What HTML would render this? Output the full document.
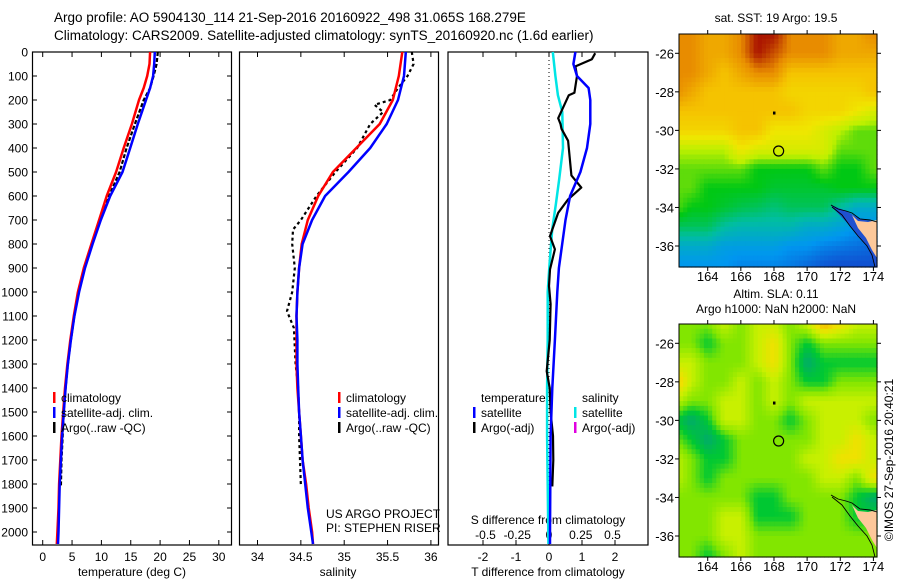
<!DOCTYPE html>
<html><head><meta charset="utf-8"><style>
html,body{margin:0;padding:0;background:#fff;width:900px;height:580px;overflow:hidden}
svg{display:block;font-family:"Liberation Sans",sans-serif}
text{font-size:12px;fill:#000}
</style></head><body>
<svg id="fig" width="900" height="580" viewBox="0 0 900 580">
<text x="54" y="22" style="font-size:13.5px">Argo profile: AO 5904130_114 21-Sep-2016 20160922_498 31.065S 168.279E</text>
<text x="54" y="40" style="font-size:13.5px">Climatology: CARS2009. Satellite-adjusted climatology: synTS_20160920.nc (1.6d earlier)</text>
<g id="p1"></g>
<g id="p2"></g>
<g id="p3"></g>
<g id="m1"></g>
<g id="m2"></g>
<text transform="translate(893,460) rotate(-90)" text-anchor="middle">©IMOS 27-Sep-2016 20:40:21</text>
</svg>
<script>
// ---- data ----
const tDepth=[0,50,100,150,200,300,400,500,600,700,800,900,1000,1100,1200,1300,1400,1500,1600,1700,1800,1900,2000,2050];
const tClim=[18.3,18.2,17.8,17.2,16.4,15.2,13.8,12.5,10.9,9.6,8.3,7.0,6.0,5.3,4.7,4.2,3.8,3.5,3.2,3.0,2.8,2.7,2.5,2.4];
const tSat=[19.1,19.0,18.8,18.3,17.6,16.2,14.9,13.6,11.5,9.9,8.5,7.2,6.2,5.4,4.8,4.3,3.9,3.6,3.3,3.1,2.9,2.8,2.7,2.6];
const argoDepth=[0,50,100,150,200,300,400,500,600,700,800,900,1000,1100,1200,1300,1400,1500,1600,1700,1810];
const tArgo=[19.6,19.4,18.9,18.3,17.2,15.7,14.3,13.1,11.3,9.7,8.4,7.1,6.1,5.4,4.8,4.3,3.9,3.6,3.4,3.2,3.1];
const sDepth=[0,100,200,300,400,500,600,700,800,900,1000,1100,1200,1300,1400,1500,1600,1700,1800,1900,2000,2050];
const sClim=[35.67,35.63,35.56,35.41,35.14,34.87,34.70,34.58,34.51,34.48,34.46,34.45,34.45,34.45,34.46,34.48,34.50,34.52,34.56,34.59,34.63,34.64];
const sSat=[35.71,35.69,35.62,35.49,35.30,35.05,34.78,34.63,34.52,34.48,34.46,34.45,34.46,34.46,34.47,34.48,34.50,34.52,34.55,34.58,34.62,34.64];
const sArgoDepth=[0,50,100,150,200,220,250,300,400,500,600,700,740,800,900,1000,1080,1150,1300,1400,1500,1600,1700,1810];
const sArgo=[35.78,35.80,35.73,35.62,35.53,35.35,35.45,35.30,35.15,34.90,34.68,34.50,34.41,34.40,34.43,34.40,34.34,34.42,34.44,34.47,34.48,34.48,34.49,34.50];
const dTSatDepth=[0,50,100,150,200,300,400,500,600,700,800,900,1000,1200,1400,1600,1800,2000,2050];
const dTSat=[0.8,0.74,0.85,1.2,1.25,1.25,1.15,0.95,0.64,0.5,0.4,0.3,0.25,0.18,0.1,0.05,0.04,0.03,0.03];
const dTArgoDepth=[5,30,60,100,170,180,276,300,320,370,514,565,614,670,767,822,906,975,1050,1200,1330,1400,1500,1600,1700,1810];
const dTArgo=[1.4,1.3,0.8,0.85,0.77,0.6,0.28,0.35,0.38,0.58,0.68,0.98,0.58,0.28,0.03,0.18,0.03,0,0.05,0.02,-0.07,0.02,0.05,0.12,0.13,0.1];
const dSSatDepth=[0,100,180,250,400,530,630,740,880,1000,1200,1400,1600,1800,2050];
const dSSat=[0.03,0.05,0.07,0.105,0.11,0.08,0.055,0.025,0.005,-0.01,-0.01,-0.015,-0.015,-0.01,-0.005];
const depthTicks=[0,100,200,300,400,500,600,700,800,900,1000,1100,1200,1300,1400,1500,1600,1700,1800,1900,2000];
const tTicks=[0,5,10,15,20,25,30];
const sTicks=[34,34.5,35,35.5,36];
const dTTicks=[-2,-1,0,1,2];
const dSTicks=[-0.5,-0.25,0,0.25,0.5];
const lonTicks=[164,166,168,170,172,174];
const latTicks=[-26,-28,-30,-32,-34,-36];
const sstGrid=[
[7,7,6.5,6.5,7,8,8,7,7,7,6.5,6.5,7],
[7,7,6.5,6.5,7,8,7.5,7,7,7,6.5,6.5,6.5],
[7,7,6.5,6,6.5,7,7,6,6,6,6,6,6],
[7,6.5,6,6,6,6,6,5.5,5.5,5.5,5.5,5.5,6],
[6,6,6,6,6,6,6,6,5.5,5.5,5.5,5,4.5],
[5.5,5.5,5.5,5.5,6,6,5,5,5,4.5,4,3.5,3.5],
[4,4,4,4,5,4.5,4.5,4.5,4.5,4.5,3.5,3.5,3.5],
[3.5,3.5,3.5,3.5,3.5,3,3,3,3,3.5,3,3,3.5],
[3.5,3.5,3,3,3,3,2.8,2.8,2.8,2.8,3,3,3],
[3.5,3,3,2.8,2.6,2.5,2.3,2.5,2.5,2.5,2,1.5,1.5],
[2.5,2.5,2.5,2,1.8,1.8,1.8,1.8,1.5,1.5,1.3,1,1],
[1.5,1.5,1.5,1.2,1.2,1.2,1.2,1,1,0.8,0.7,0.6,0.5],
[1,1,1,1,0.8,0.8,0.8,0.7,0.5,0.3,0.2,0.2,0.2]];
const slaGrid=[
[2,2,2,3,2,3,3,2,3,5,4,3,3],
[2,2,1,2,2,3,4,2,1,2,2,2,2],
[3,3,2,2,2,3,4,2,0,1,1,1,1],
[5,3,2,2,3,2,3,2,1,1,2,2,2],
[3,2,2,3,3,2,3,2,3,3,3,3,3],
[1,0,1,3,3,2,2,1,2,3,3,3,2],
[2,1,0,1,2,2,2,2,2,3,3,4,3],
[3,2,1,1,2,2,2,2,3,3,4,4,3],
[3,2,1,2,2,2,2,2,2,3,3,2,4],
[2,2,2,2,2,1,1,2,2,2,2,1,0],
[2,2,2,3,3,1,1,1,2,2,2,1,1],
[2,2,2,3,3,2,2,2,2,2,2,2,2],
[2,2,1,2,3,2,2,2,2,2,2,2,2]];
const sstCmap=[[20,60,200],[0,150,240],[0,190,160],[0,200,20],[190,240,0],[240,230,0],[245,195,0],[232,140,0],[170,20,0]];
const slaCmap=[[0,170,110],[0,200,50],[130,230,0],[200,240,0],[240,225,0],[245,175,0]];

// ---- helpers ----
const NS='http://www.w3.org/2000/svg';
function el(parent,tag,attrs){const e=document.createElementNS(NS,tag);for(const k in attrs)e.setAttribute(k,attrs[k]);parent.appendChild(e);return e;}
const yTop=52,yPx=0.24,yBot=545;
const yD=d=>yTop+d*yPx;
function line(g,xs,ds,fx,col,w,name,dash){
  const pts=xs.map((v,i)=>fx(v).toFixed(1)+','+yD(ds[i]).toFixed(1)).join(' ');
  const p=el(g,'polyline',{points:pts,fill:'none',stroke:col,'stroke-width':w,'stroke-linejoin':'round'});
  if(dash)p.setAttribute('stroke-dasharray',dash);
  
  
}
function frame(g,x0,x1,name){
  const r=el(g,'rect',{x:x0,y:yTop,width:x1-x0,height:yBot-yTop,fill:'none',stroke:'#000','stroke-width':1.2});
  
  
}
function txt(g,x,y,s,anchor,name){const t=el(g,'text',{x:x,y:y,'text-anchor':anchor||'start'});t.textContent=s;
  
  
  return t;}
function legendBar(g,x,y,col,name){const r=el(g,'rect',{x:x,y:y-10,width:2.5,height:11,fill:col});
  
  }

// ---- panel 1 ----
const p1=document.getElementById('p1');
const xT=t=>42.7+t*5.87;
frame(p1,32.5,231.5,'temperature-axes-frame');
depthTicks.forEach(d=>{el(p1,'line',{x1:32.5,x2:37,y1:yD(d),y2:yD(d),stroke:'#000'});el(p1,'line',{x1:227,x2:231.5,y1:yD(d),y2:yD(d),stroke:'#000'});
  txt(p1,28,yD(d)+4.5,String(d),'end','depth-tick-label');});
tTicks.forEach(t=>{el(p1,'line',{x1:xT(t),x2:xT(t),y1:yTop,y2:yTop+5,stroke:'#000'});el(p1,'line',{x1:xT(t),x2:xT(t),y1:yBot,y2:yBot-5,stroke:'#000'});
  txt(p1,xT(t),561,String(t),'middle','temperature-tick-label');});
txt(p1,132,576,'temperature (deg C)','middle','temperature-axis-title');
line(p1,tArgo,argoDepth,xT,'#000',2.2,'argo-temperature-line','4,2');
line(p1,tClim,tDepth,xT,'#f00',2.5,'climatology-temperature-line');
line(p1,tSat,tDepth,xT,'#00f',2.5,'satellite-temperature-line');
legendBar(p1,53,402,'#f00','legend-climatology-swatch');txt(p1,61,402,'climatology','start','legend-climatology');
legendBar(p1,53,417,'#00f','legend-satellite-swatch');txt(p1,61,417,'satellite-adj. clim.','start','legend-satellite');
legendBar(p1,53,432,'#000','legend-argo-swatch');txt(p1,61,432,'Argo(..raw -QC)','start','legend-argo');

// ---- panel 2 ----
const p2=document.getElementById('p2');
const xS=s=>257.5+(s-34)*86.7;
frame(p2,239.5,438.5,'salinity-axes-frame');
sTicks.forEach(s=>{el(p2,'line',{x1:xS(s),x2:xS(s),y1:yTop,y2:yTop+5,stroke:'#000'});el(p2,'line',{x1:xS(s),x2:xS(s),y1:yBot,y2:yBot-5,stroke:'#000'});
  txt(p2,xS(s),561,String(s),'middle','salinity-tick-label');});
txt(p2,338,576,'salinity','middle','salinity-axis-title');
line(p2,sArgo,sArgoDepth,xS,'#000',2.2,'argo-salinity-line','3,3');
line(p2,sClim,sDepth,xS,'#f00',2.5,'climatology-salinity-line');
line(p2,sSat,sDepth,xS,'#00f',2.5,'satellite-salinity-line');
legendBar(p2,338,402,'#f00','legend-climatology-swatch');txt(p2,346,402,'climatology','start','legend-climatology');
legendBar(p2,338,417,'#00f','legend-satellite-swatch');txt(p2,346,417,'satellite-adj. clim.','start','legend-satellite');
legendBar(p2,338,432,'#000','legend-argo-swatch');txt(p2,346,432,'Argo(..raw -QC)','start','legend-argo');
txt(p2,326,518,'US ARGO PROJECT','start','project-credit');
txt(p2,326,532,'PI: STEPHEN RISER','start','pi-credit');

// ---- panel 3 ----
const p3=document.getElementById('p3');
const xdT=t=>549+t*33;
const xdS=s=>549+s*127;
frame(p3,448,648,'difference-axes-frame');
el(p3,'line',{x1:549,x2:549,y1:yTop,y2:yBot,stroke:'#000','stroke-dasharray':'1,3'});
dTTicks.forEach(t=>{el(p3,'line',{x1:xdT(t),x2:xdT(t),y1:yTop,y2:yTop+5,stroke:'#000'});el(p3,'line',{x1:xdT(t),x2:xdT(t),y1:yBot,y2:yBot-5,stroke:'#000'});
  txt(p3,xdT(t),561,String(t),'middle','t-diff-tick-label');});
dSTicks.forEach(s=>txt(p3,xdS(s),539,String(s),'middle','s-diff-tick-label'));
txt(p3,548,524,'S difference from climatology','middle','s-diff-axis-title');
txt(p3,548,576,'T difference from climatology','middle','t-diff-axis-title');
line(p3,dSSat,dSSatDepth,xdS,'#00e5e5',2.5,'salinity-satellite-diff-line');
line(p3,dTArgo,dTArgoDepth,xdT,'#000',2.2,'temperature-argo-diff-line');
line(p3,dTSat,dTSatDepth,xdT,'#00f',2.5,'temperature-satellite-diff-line');
txt(p3,481,402,'temperature','start','legend-temperature-header');
legendBar(p3,473,417,'#00f','legend-t-satellite-swatch');txt(p3,481,417,'satellite','start','legend-t-satellite');
legendBar(p3,473,432,'#000','legend-t-argo-swatch');txt(p3,481,432,'Argo(-adj)','start','legend-t-argo');
txt(p3,582,402,'salinity','start','legend-salinity-header');
legendBar(p3,574,417,'#00e5e5','legend-s-satellite-swatch');txt(p3,582,417,'satellite','start','legend-s-satellite');
legendBar(p3,574,432,'#e000e0','legend-s-argo-swatch');txt(p3,582,432,'Argo(-adj)','start','legend-s-argo');

// ---- maps ----
function cmapColor(cm,v){v=Math.max(0,Math.min(cm.length-1,v));const i=Math.min(cm.length-2,Math.floor(v)),f=v-i;
  const c=cm[i].map((a,k)=>Math.round(a+(cm[i+1][k]-a)*f));return 'rgb('+c.join(',')+')';}
function drawMap(id,top,grid,cm,title1,title2,shelf){
  const g=document.getElementById(id);
  const L=679,R=877,T=top,B=top+233;
  const xL=lon=>707.7+(lon-164)*16.57, yL=lat=>T+19.3+(-26-lat)*19.27;
  const lon0=162.27,lon1=174.2,lat0=-25,lat1=-37.1,step=0.25;
  for(let la=lat0;la>lat1;la-=step){for(let lo=lon0;lo<lon1;lo+=step){
    const gi=Math.min(11.999,Math.max(0,-25-(la-step/2))), gj=Math.min(11.999,Math.max(0,(lo+step/2)-162));
    const i=Math.floor(gi),j=Math.floor(gj),fi=gi-i,fj=gj-j;
    const v=grid[i][j]*(1-fi)*(1-fj)+grid[i+1][j]*fi*(1-fj)+grid[i][j+1]*(1-fi)*fj+grid[i+1][j+1]*fi*fj;
    const x=Math.max(L,xL(lo)),y=Math.max(T,yL(la));
    el(g,'rect',{x:x.toFixed(1),y:y.toFixed(1),width:(Math.min(R,xL(lo+step))-x+0.6).toFixed(1),height:(Math.min(B,yL(la-step))-y+0.6).toFixed(1),fill:cmapColor(cm,v)});
  }}
  const o=top-34;
  if(shelf){el(g,'polygon',{points:`831,${205+o} 846,${211+o} 860,${219+o} 877,${222+o} 877,${267+o} 875,${267+o} 867,${246+o} 850,${226+o} 832,${207+o}`,fill:'#1f50d0'});}
  const land=el(g,'polygon',{points:`852,${215+o} 858,${221+o} 868,${222+o} 877,${220+o} 877,${258+o} 872,${250+o} 866,${238+o} 858,${228+o}`,fill:'#fdc89a'});
  
  
  el(g,'polyline',{points:`831,${205+o} 838,${209+o} 846,${211+o} 852,${213+o} 860,${219+o} 870,${220+o} 877,${222+o}`,fill:'none',stroke:'#000','stroke-width':0.9});
  el(g,'polyline',{points:`832,${207+o} 842,${215+o} 850,${226+o} 858,${236+o} 867,${246+o} 872,${255+o} 875,${267+o}`,fill:'none',stroke:'#000','stroke-width':0.9});
  const c=el(g,'circle',{cx:xL(168.28),cy:yL(-31.07),r:5,fill:'none',stroke:'#000','stroke-width':1.2});
  
  
  el(g,'rect',{x:xL(168)-1,y:yL(-29.1)-1.5,width:2.5,height:3,fill:'#000'});
  el(g,'rect',{x:L,y:T,width:R-L,height:B-T,fill:'none',stroke:'#000','stroke-width':1});
  lonTicks.forEach(lo=>{el(g,'line',{x1:xL(lo),x2:xL(lo),y1:T,y2:T-4,stroke:'#000'});el(g,'line',{x1:xL(lo),x2:xL(lo),y1:B,y2:B+4,stroke:'#000'});
    txt(g,xL(lo),B+14,String(lo),'middle','longitude-tick-label').style.fontSize='13px';});
  latTicks.forEach(la=>{el(g,'line',{x1:L,x2:L-4,y1:yL(la),y2:yL(la),stroke:'#000'});el(g,'line',{x1:R,x2:R+4,y1:yL(la),y2:yL(la),stroke:'#000'});
    txt(g,674,yL(la)+5,String(la),'end','latitude-tick-label').style.fontSize='13px';});
  if(title2){txt(g,776,top-26,title1,'middle','map-title');txt(g,776,top-11,title2,'middle','map-subtitle');}
  else txt(g,776,top-12,title1,'middle','map-title');
}
drawMap('m1',34,sstGrid,sstCmap,'sat. SST: 19 Argo: 19.5',null,true);
drawMap('m2',324,slaGrid,slaCmap,'Altim. SLA: 0.11','Argo h1000: NaN h2000: NaN',false);
</script>
</body></html>
